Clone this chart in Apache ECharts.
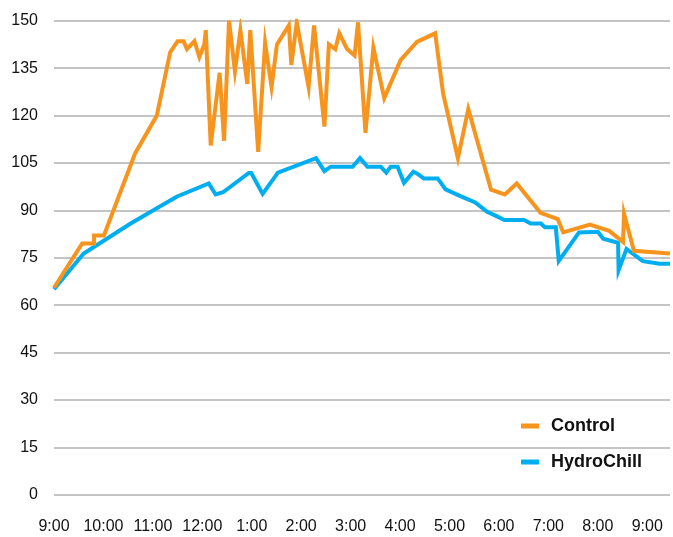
<!DOCTYPE html>
<html>
<head>
<meta charset="utf-8">
<script src="https://cdn.jsdelivr.net/npm/echarts@6/dist/echarts.min.js"></script>
<style>
html,body{margin:0;padding:0;background:#fff;}
#chart{width:673px;height:537px;}
</style>
</head>
<body>
<div id="chart"></div>
<script>
// Hours after 9:00 AM
var hourLabels = ['9:00','10:00','11:00','12:00','1:00','2:00','3:00','4:00','5:00','6:00','7:00','8:00','9:00'];
var yTicks = [0,15,30,45,60,75,90,105,120,135,150];

var controlTimes = [0.00,0.57,0.81,0.81,1.01,1.64,2.08,2.35,2.50,2.62,2.69,2.84,2.94,3.04,3.07,3.17,3.35,3.44,3.54,3.66,3.77,3.91,3.97,4.13,4.27,4.40,4.51,4.75,4.80,4.91,5.15,5.26,5.47,5.56,5.69,5.77,5.93,6.08,6.15,6.30,6.46,6.68,7.01,7.34,7.71,7.87,8.17,8.38,8.84,9.12,9.36,9.84,10.19,10.30,10.84,11.23,11.51,11.53,11.73,12.46];
var controlValues = [65.5,79.5,79.5,82,82,108,120,140,143.5,143.5,141,143.5,138.5,142.5,147,110.5,133.5,112,150,134,147,130,147,108.5,143,129,142.5,148.5,136,149.5,129,148.5,116.5,142.5,141,146,141,139,149.5,114.5,141.5,125.5,137.5,143.3,146,127,106.5,122,96.5,95,98.5,89.2,87.2,83,85.5,83.5,80,89,77.2,76.3];

var hydroTimes = [0.00,0.60,1.55,2.48,3.13,3.27,3.42,3.94,3.99,4.22,4.53,5.30,5.47,5.60,6.04,6.19,6.34,6.61,6.72,6.81,6.95,7.08,7.27,7.35,7.48,7.76,7.92,8.22,8.52,8.76,8.93,9.11,9.51,9.64,9.85,9.93,10.15,10.21,10.62,11.00,11.11,11.41,11.42,11.58,11.91,12.25,12.46];
var hydroValues = [65,76.3,85.8,94.3,98.5,95,95.7,101.8,101.8,95.2,101.9,106.5,102.4,103.8,103.8,106.5,103.8,103.8,101.9,103.8,103.8,98.7,102.2,101.6,100.1,100.1,96.6,94.5,92.5,89.5,88.3,86.9,86.9,85.8,85.8,84.6,84.6,74,83,83.2,81,79.7,71,77.8,73.9,73.1,73.1];

function pairs(t, v){ return t.map(function(x,i){ return [x, v[i]]; }); }

var chart = echarts.init(document.getElementById('chart'), null, {renderer:'canvas'});
var font = 'Liberation Sans, Helvetica, Arial, sans-serif';
chart.setOption({
  animation:false,
  backgroundColor:'#ffffff',
  grid:{left:54, right:0, top:20.7, bottom:42.3, containLabel:false},
  xAxis:{
    type:'value', min:0, max:12.46, interval:1,
    axisLine:{show:false}, axisTick:{show:false}, splitLine:{show:false},
    axisLabel:{
      margin:24, fontSize:16, color:'#111', fontFamily:font,
      formatter:function(v){ var i=Math.round(v); return (Math.abs(v-i)<1e-6 && hourLabels[i]!==undefined)? hourLabels[i] : ''; }
    }
  },
  yAxis:{
    type:'value', min:yTicks[0], max:yTicks[yTicks.length-1], interval:15,
    axisLine:{show:false}, axisTick:{show:false},
    splitLine:{lineStyle:{color:'#b0b0b0', width:1.5}},
    axisLabel:{margin:16, fontSize:16, color:'#111', fontFamily:font}
  },
  legend:{
    orient:'vertical', left:516, top:412, itemWidth:18, itemHeight:5, itemGap:18,
    textStyle:{fontSize:18, fontWeight:'bold', color:'#111', fontFamily:font, padding:[0,0,0,7]},
    data:[{name:'Control', icon:'rect'},{name:'HydroChill', icon:'rect'}]
  },
  series:[
    {name:'Control', type:'line', data:pairs(controlTimes, controlValues), showSymbol:false, symbol:'none',
     lineStyle:{color:'#F7941E', width:4, join:'miter'}, itemStyle:{color:'#F7941E'}, z:3},
    {name:'HydroChill', type:'line', data:pairs(hydroTimes, hydroValues), showSymbol:false, symbol:'none',
     lineStyle:{color:'#00AEEF', width:4, join:'miter'}, itemStyle:{color:'#00AEEF'}, z:2}
  ]
});
</script>
</body>
</html>
